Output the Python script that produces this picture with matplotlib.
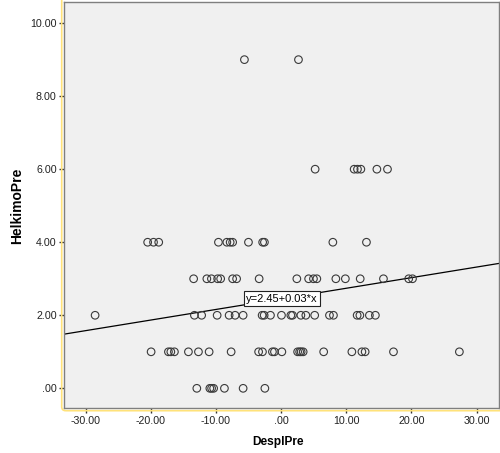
import matplotlib
matplotlib.use("Agg")
import matplotlib.pyplot as plt
from matplotlib.patches import FancyBboxPatch
from matplotlib.transforms import IdentityTransform
import numpy as np

plt.rcParams['font.family'] = ['Liberation Sans', 'DejaVu Sans']

# Data, grouped by HelkimoPre level
x_h0 = [-12.95, -10.95, -10.68, -10.37, -8.71, -5.84, -2.50]
x_h1 = [-19.97, -17.31, -16.94, -16.39, -14.24, -12.70, -11.06, -7.68, -3.46, -2.87,
        -1.34, -1.03, 0.11, 2.53, 2.84, 3.07, 3.38, 6.53, 10.86, 12.40, 12.90, 17.25, 27.37]
x_h2 = [-28.57, -13.32, -12.21, -9.83, -7.99, -7.07, -5.84, -2.92, -2.61, -1.64, 0.05,
        1.49, 1.74, 3.03, 3.79, 5.15, 7.42, 8.03, 11.67, 12.09, 13.55, 14.47]
x_h3 = [-13.44, -11.41, -10.71, -9.75, -9.29, -7.45, -6.84, -3.38, 2.41, 4.22, 4.96,
        5.48, 8.40, 9.86, 12.14, 15.71, 19.59, 20.17]
x_h4 = [-20.5, -19.6, -18.8, -9.63, -8.34, -7.83, -7.45, -5.02, -2.84, -2.57, 7.94, 13.1]
x_h6 = [5.22, 11.21, 11.72, 12.24, 14.70, 16.33]
x_h9 = [-5.64, 2.66]

levels = [0, 1, 2, 3, 4, 6, 9]
groups = [x_h0, x_h1, x_h2, x_h3, x_h4, x_h6, x_h9]

desplpre = [x for g in groups for x in g]
helkimopre = [lv for lv, g in zip(levels, groups) for _ in g]

fit_intercept = 2.45
fit_slope = 0.029
fit_label = "y=2.45+0.03*x"

xticks = [-30, -20, -10, 0, 10, 20, 30]
xticklabels = ["-30.00", "-20.00", "-10.00", ".00", "10.00", "20.00", "30.00"]
yticks = [0, 2, 4, 6, 8, 10]
yticklabels = [".00", "2.00", "4.00", "6.00", "8.00", "10.00"]

W, H = 500, 453
fig = plt.figure(figsize=(W / 100, H / 100), dpi=100)
fig.patch.set_facecolor("white")

# yellow outer frame (left and bottom edges with rounded corner)
frame = FancyBboxPatch((61.7, H - 410.7), 520, 500,
                       boxstyle="round,pad=0,rounding_size=4",
                       transform=IdentityTransform(), facecolor="none",
                       edgecolor="#FFE27A", linewidth=1.2, zorder=0)
fig.patches.append(frame)

ax = fig.add_axes([64.3 / W, 1 - 408.3 / H, (499.3 - 64.3) / W, (408.3 - 2.3) / H])
ax.set_facecolor("#F0F0F0")
for s in ax.spines.values():
    s.set_color("#7F7F7F")
    s.set_linewidth(1.0)

ax.scatter(desplpre, helkimopre, s=30, facecolors="none", edgecolors="#3A3A3A",
           linewidths=0.8, zorder=3)

xl = (-33.3, 33.5)
xs = np.array(xl)
ax.plot(xs, fit_intercept + fit_slope * xs, color="black", linewidth=0.9, zorder=2)
ax.text(0.1, fit_intercept, fit_label, ha="center", va="center", fontsize=8, zorder=4,
        bbox=dict(boxstyle="square,pad=0.22", facecolor="white", edgecolor="#222222",
                  linewidth=0.8))

ax.set_xlim(*xl)
ax.set_ylim(-0.547, 10.57)
ax.set_xticks(xticks)
ax.set_xticklabels(xticklabels)
ax.set_yticks(yticks)
ax.set_yticklabels(yticklabels)
ax.tick_params(axis="both", direction="out", length=3.5, width=1, color="#333333",
               labelsize=7.7, labelcolor="#222222", pad=2)

fig.text(277.7 / W, 1 - 442.5 / H, "DesplPre", fontsize=8.6, fontweight="bold",
         ha="center", va="center")
fig.text(16.7 / W, 1 - 205.5 / H, "HelkimoPre", fontsize=10, fontweight="bold",
         ha="center", va="center", rotation=90)

fig.savefig("out.png", dpi=100, facecolor="white")
